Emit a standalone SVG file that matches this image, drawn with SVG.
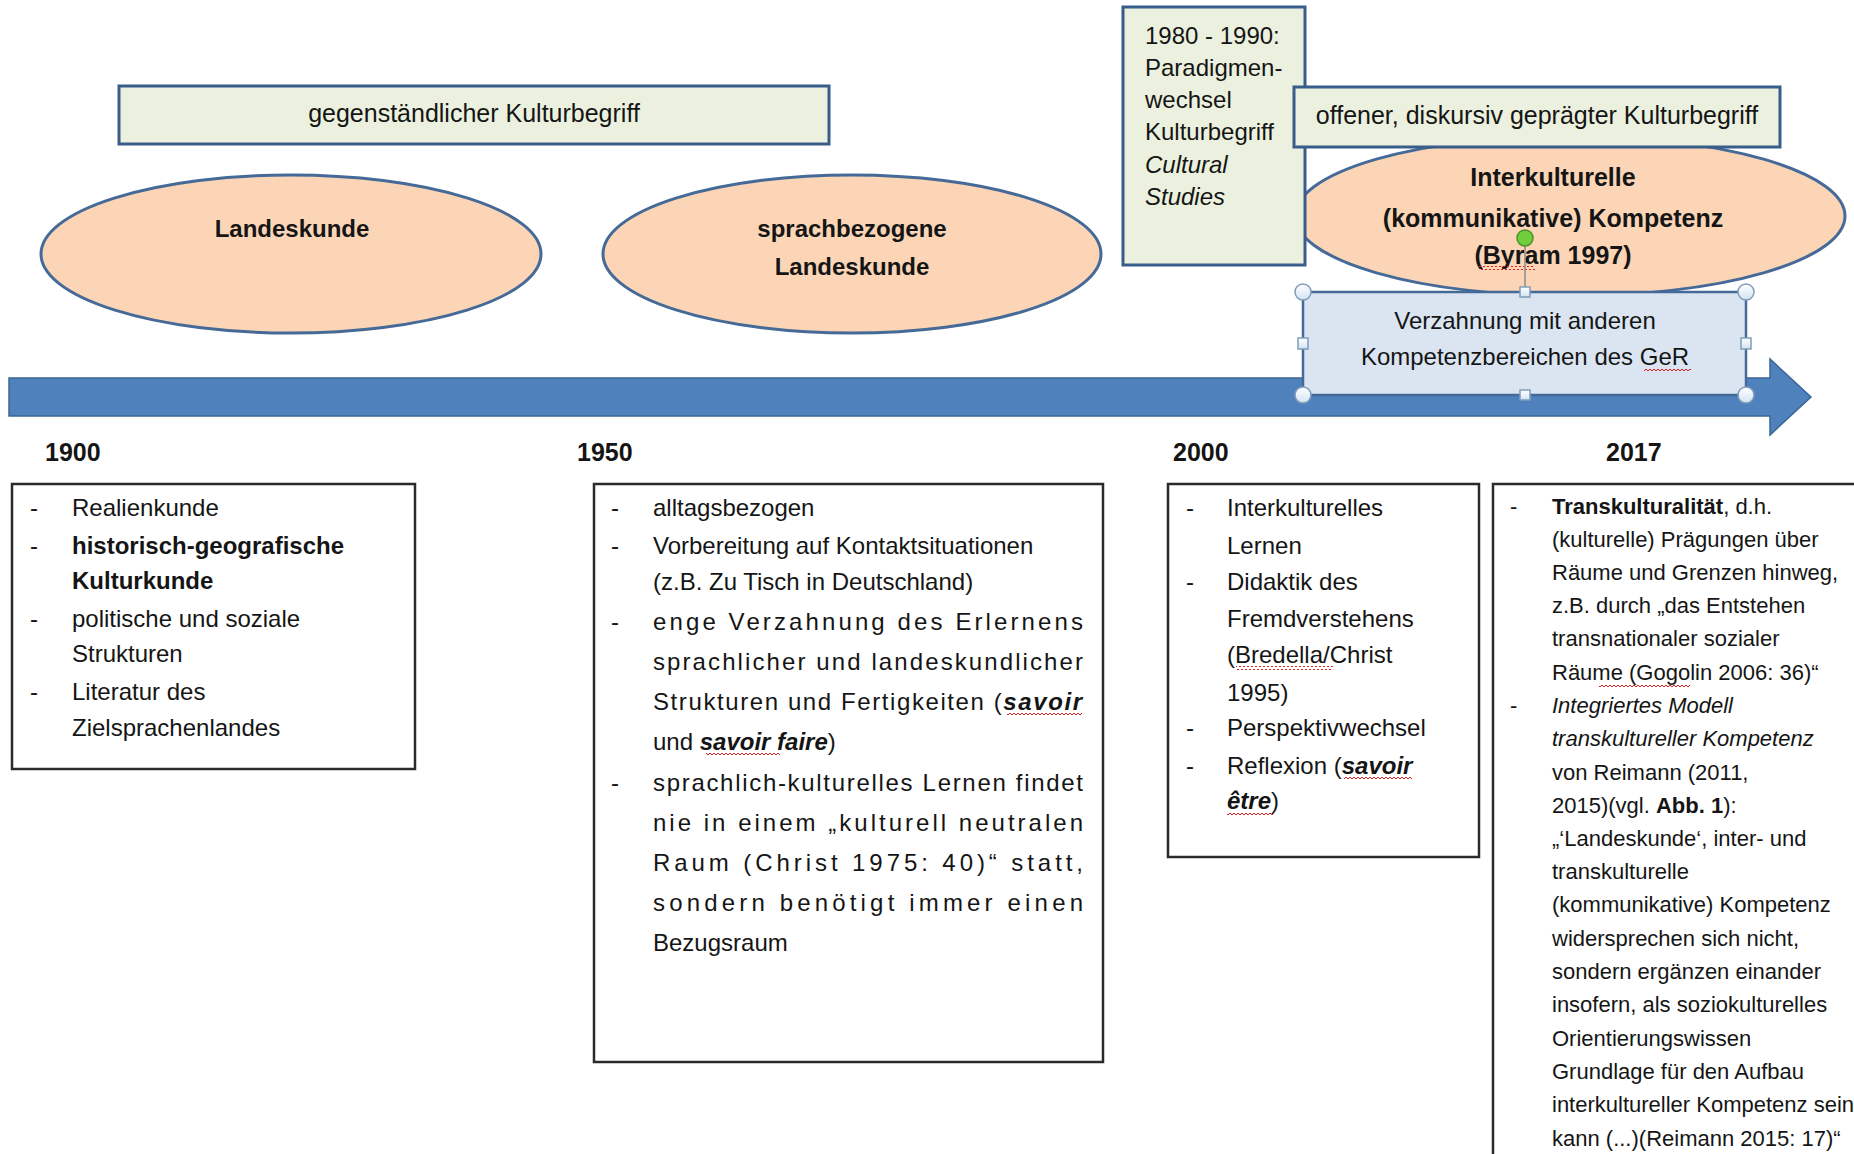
<svg xmlns="http://www.w3.org/2000/svg" width="1854" height="1154" viewBox="0 0 1854 1154">
<style>
text{font-family:"Liberation Sans",Arial,sans-serif;fill:#151515}
.t24{font-size:24px}
.t25{font-size:25px}
.t22{font-size:22px}
.b{font-weight:bold}
.i{font-style:italic}
.mid{text-anchor:middle}
.green{fill:#ebf1de;stroke:#385d8a;stroke-width:3}
.oval{fill:#fbd5b5;stroke:#456a98;stroke-width:3}
.box{fill:#ffffff;stroke:#2a2a2a;stroke-width:2.5}
.handle{fill:url(#hg);stroke:#7f9db9;stroke-width:1.5}
.wave{fill:url(#wv)}
</style>
<defs>
<linearGradient id="hg" x1="0" y1="0" x2="0" y2="1">
<stop offset="0" stop-color="#ffffff"/>
<stop offset="1" stop-color="#d3e3f3"/>
</linearGradient>
<pattern id="wv" width="4" height="4" patternUnits="userSpaceOnUse">
<path d="M0,3 L2,1 L4,3" fill="none" stroke="#e02020" stroke-width="1"/>
</pattern>
</defs>

<g id="connectors">
<path id="timeline-arrow" d="M9,378 L1770,378 L1770,359 L1811,397 L1770,435 L1770,416 L9,416 Z" fill="#4f81bd" stroke="#3a6594" stroke-width="1.5"/>
</g>

<g id="gegenstaendlich">
<rect class="green" x="119" y="86" width="710" height="58"/>
<text class="t25 mid" x="474" y="122">gegenständlicher Kulturbegriff</text>
</g>

<g id="landeskunde">
<ellipse class="oval" cx="291" cy="254" rx="250" ry="79"/>
<text class="t24 b mid" x="292" y="237">Landeskunde</text>
</g>

<g id="sprachbezogene">
<ellipse class="oval" cx="852" cy="254" rx="249" ry="79"/>
<text class="t24 b mid" x="852" y="237">sprachbezogene</text>
<text class="t24 b mid" x="852" y="275">Landeskunde</text>
</g>

<g id="interkulturelle">
<ellipse class="oval" cx="1570" cy="216" rx="275" ry="80"/>
<text class="t25 b mid" x="1553" y="186">Interkulturelle</text>
<text class="t25 b mid" x="1553" y="227">(kommunikative) Kompetenz</text>
<text class="t25 b mid" x="1553" y="264">(Byram 1997)</text>
<rect class="wave" x="1479" y="266" width="56" height="4"/>
</g>

<g id="paradigmenwechsel">
<rect class="green" x="1123" y="7" width="182" height="258"/>
<text class="t24" x="1145" y="44">1980 - 1990:</text>
<text class="t24" x="1145" y="76">Paradigmen-</text>
<text class="t24" x="1145" y="108">wechsel</text>
<text class="t24" x="1145" y="140">Kulturbegriff</text>
<text class="t24 i" x="1145" y="173">Cultural</text>
<text class="t24 i" x="1145" y="205">Studies</text>
</g>

<g id="offener">
<rect class="green" x="1294" y="87" width="486" height="60"/>
<text class="t25 mid" x="1537" y="124">offener, diskursiv geprägter Kulturbegriff</text>
</g>

<g id="verzahnung">
<rect x="1303" y="292" width="443" height="103" fill="#dbe5f1" stroke="#456a98" stroke-width="2.5"/>
<text class="t24 mid" x="1525" y="329">Verzahnung mit anderen</text>
<text class="t24 mid" x="1525" y="365">Kompetenzbereichen des GeR</text>
<rect class="wave" x="1644" y="367" width="47" height="4"/>
<line x1="1525" y1="246" x2="1525" y2="287" stroke="#8a8a8a" stroke-width="1.5"/>
<circle cx="1525" cy="238" r="8" fill="#6fcf3a" stroke="#4d8f2a" stroke-width="1.5"/>
<circle class="handle" cx="1303" cy="292" r="8"/>
<circle class="handle" cx="1746" cy="292" r="8"/>
<circle class="handle" cx="1303" cy="395" r="8"/>
<circle class="handle" cx="1746" cy="395" r="8"/>
<rect class="handle" x="1520" y="287" width="10" height="10"/>
<rect class="handle" x="1298" y="338" width="10" height="11"/>
<rect class="handle" x="1741" y="338" width="10" height="11"/>
<rect class="handle" x="1520" y="390" width="10" height="10"/>
</g>

<g id="years">
<text class="t25 b" x="45" y="461">1900</text>
<text class="t25 b" x="577" y="461">1950</text>
<text class="t25 b" x="1173" y="461">2000</text>
<text class="t25 b" x="1606" y="461">2017</text>
</g>

<g id="box1900">
<rect class="box" x="12" y="484" width="403" height="285"/>
<text class="t24" x="30" y="516">-</text>
<text class="t24" x="72" y="516">Realienkunde</text>
<text class="t24" x="30" y="554">-</text>
<text class="t24 b" x="72" y="554">historisch-geografische</text>
<text class="t24 b" x="72" y="589">Kulturkunde</text>
<text class="t24" x="30" y="627">-</text>
<text class="t24" x="72" y="627">politische und soziale</text>
<text class="t24" x="72" y="662">Strukturen</text>
<text class="t24" x="30" y="700">-</text>
<text class="t24" x="72" y="700">Literatur des</text>
<text class="t24" x="72" y="736">Zielsprachenlandes</text>
</g>

<g id="box1950">
<rect class="box" x="594" y="484" width="509" height="578"/>
<text class="t24" x="611" y="516">-</text>
<text class="t24" x="653" y="516">alltagsbezogen</text>
<text class="t24" x="611" y="554">-</text>
<text class="t24" x="653" y="554">Vorbereitung auf Kontaktsituationen</text>
<text class="t24" x="653" y="590">(z.B. Zu Tisch in Deutschland)</text>
<text class="t24" x="611" y="630">-</text>
<text class="t24" x="653" y="630" textLength="430" lengthAdjust="spacing">enge Verzahnung des Erlernens</text>
<text class="t24" x="653" y="670" textLength="430" lengthAdjust="spacing">sprachlicher und landeskundlicher</text>
<text class="t24" x="653" y="710" textLength="429" lengthAdjust="spacing">Strukturen und Fertigkeiten (<tspan class="b i">savoir</tspan></text>
<text class="t24" x="653" y="750">und <tspan class="b i">savoir faire</tspan>)</text>
<text class="t24" x="611" y="791">-</text>
<text class="t24" x="653" y="791" textLength="430" lengthAdjust="spacing">sprachlich-kulturelles Lernen findet</text>
<text class="t24" x="653" y="831" textLength="430" lengthAdjust="spacing">nie in einem „kulturell neutralen</text>
<text class="t24" x="653" y="871" textLength="430" lengthAdjust="spacing">Raum (Christ 1975: 40)“ statt,</text>
<text class="t24" x="653" y="911" textLength="430" lengthAdjust="spacing">sondern benötigt immer einen</text>
<text class="t24" x="653" y="951">Bezugsraum</text>
<rect class="wave" x="1007" y="713" width="75" height="4"/>
<rect class="wave" x="706" y="753" width="74" height="4"/>
</g>

<g id="box2000">
<rect class="box" x="1168" y="484" width="311" height="373"/>
<text class="t24" x="1186" y="516">-</text>
<text class="t24" x="1227" y="516">Interkulturelles</text>
<text class="t24" x="1227" y="554">Lernen</text>
<text class="t24" x="1186" y="590">-</text>
<text class="t24" x="1227" y="590">Didaktik des</text>
<text class="t24" x="1227" y="627">Fremdverstehens</text>
<text class="t24" x="1227" y="663">(Bredella/Christ</text>
<text class="t24" x="1227" y="701">1995)</text>
<text class="t24" x="1186" y="736">-</text>
<text class="t24" x="1227" y="736">Perspektivwechsel</text>
<text class="t24" x="1186" y="774">-</text>
<text class="t24" x="1227" y="774">Reflexion (<tspan class="b i">savoir</tspan></text>
<text class="t24" x="1227" y="809"><tspan class="b i">être</tspan>)</text>
<rect class="wave" x="1236" y="666" width="97" height="4"/>
<rect class="wave" x="1344" y="777" width="68" height="4"/>
<rect class="wave" x="1227" y="812" width="46" height="4"/>
</g>

<g id="box2017">
<rect class="box" x="1493" y="484" width="400" height="700"/>
<text class="t22" x="1510" y="514">-</text>
<text class="t22" x="1552" y="514"><tspan class="b">Transkulturalität</tspan>, d.h.</text>
<text class="t22" x="1552" y="547">(kulturelle) Prägungen über</text>
<text class="t22" x="1552" y="580">Räume und Grenzen hinweg,</text>
<text class="t22" x="1552" y="613">z.B. durch „das Entstehen</text>
<text class="t22" x="1552" y="646">transnationaler sozialer</text>
<text class="t22" x="1552" y="680">Räume (Gogolin 2006: 36)“</text>
<text class="t22" x="1510" y="713">-</text>
<text class="t22 i" x="1552" y="713">Integriertes Modell</text>
<text class="t22 i" x="1552" y="746">transkultureller Kompetenz</text>
<text class="t22" x="1552" y="780">von Reimann (2011,</text>
<text class="t22" x="1552" y="813">2015)(vgl. <tspan class="b">Abb. 1</tspan>):</text>
<text class="t22" x="1552" y="846">„‘Landeskunde‘, inter- und</text>
<text class="t22" x="1552" y="879">transkulturelle</text>
<text class="t22" x="1552" y="912">(kommunikative) Kompetenz</text>
<text class="t22" x="1552" y="946">widersprechen sich nicht,</text>
<text class="t22" x="1552" y="979">sondern ergänzen einander</text>
<text class="t22" x="1552" y="1012">insofern, als soziokulturelles</text>
<text class="t22" x="1552" y="1046">Orientierungswissen</text>
<text class="t22" x="1552" y="1079">Grundlage für den Aufbau</text>
<text class="t22" x="1552" y="1112">interkultureller Kompetenz sein</text>
<text class="t22" x="1552" y="1146">kann (...)(Reimann 2015: 17)“</text>
<rect class="wave" x="1599" y="683" width="91" height="4"/>
</g>
</svg>
